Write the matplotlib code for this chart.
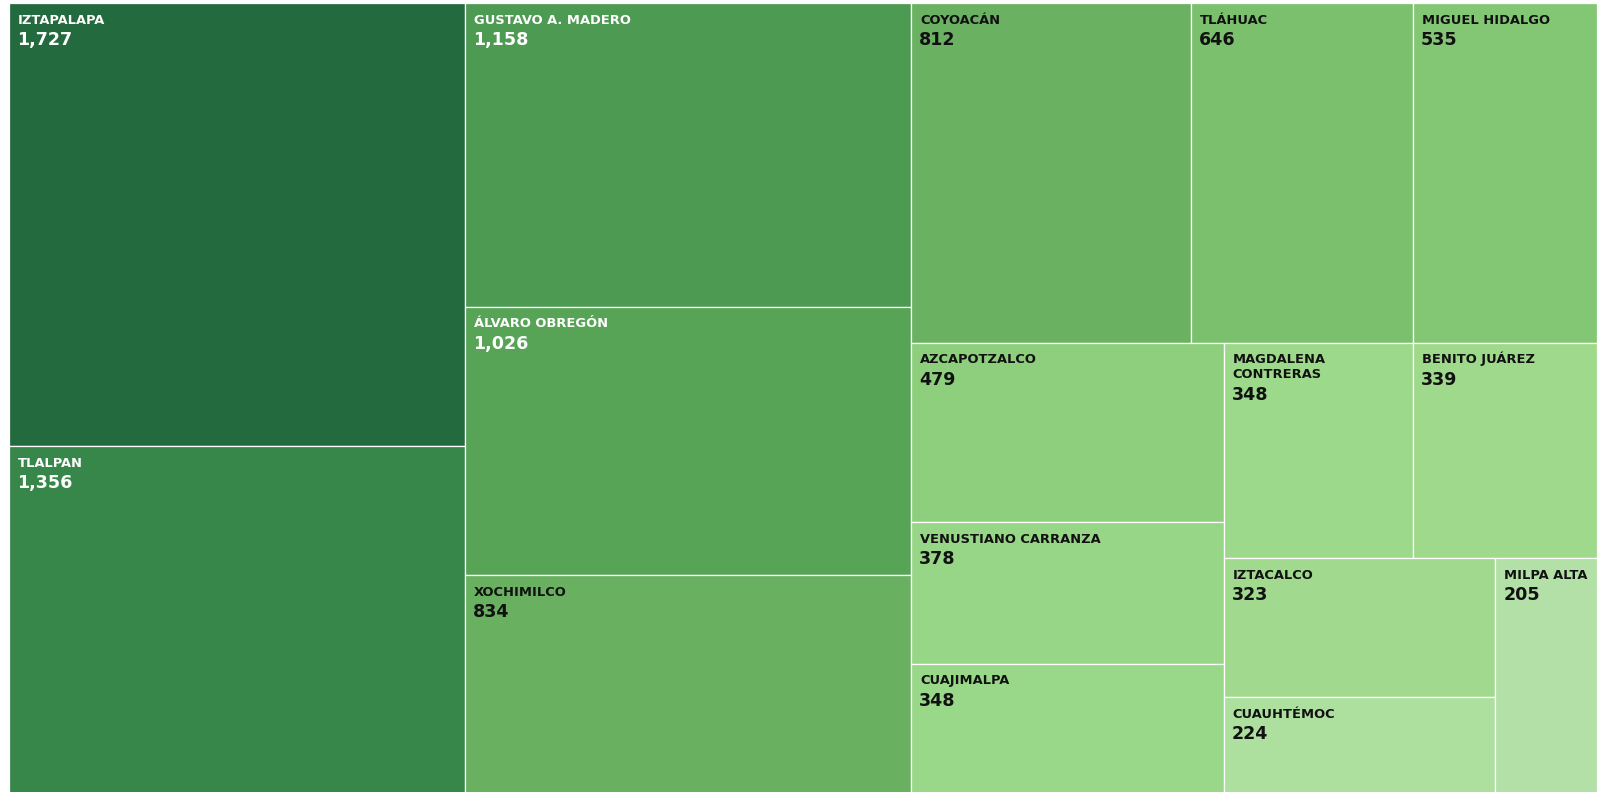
import matplotlib.pyplot as plt
from matplotlib.patches import Rectangle

names = ["IZTAPALAPA", "TLALPAN", "GUSTAVO A. MADERO", "ÁLVARO OBREGÓN", "XOCHIMILCO",
         "COYOACÁN", "TLÁHUAC", "MIGUEL HIDALGO", "AZCAPOTZALCO", "VENUSTIANO CARRANZA",
         "CUAJIMALPA", "MAGDALENA\nCONTRERAS", "BENITO JUÁREZ", "IZTACALCO", "CUAUHTÉMOC",
         "MILPA ALTA"]
values = [1727, 1356, 1158, 1026, 834, 812, 646, 535, 479, 378, 348, 348, 339, 323, 224, 205]
colors = ["#236a3e", "#37874a", "#4d9a52", "#58a457", "#69b161", "#6ab262", "#7ac06d", "#83c775",
          "#8dcf7c", "#97d686", "#9ad889", "#9dd98b", "#9ed98c", "#a1da8e", "#addf9f", "#b2e0a6"]
text_colors = ["white"] * 4 + ["#111111"] * 12

PHI = (1 + 5 ** 0.5) / 2


def squarify(vals, x0, y0, x1, y1, ratio=PHI):
    # same rule as d3.treemapSquarify
    rects = []
    value = sum(vals)
    i0 = i1 = 0
    n = len(vals)
    while i0 < n:
        dx, dy = x1 - x0, y1 - y0
        sum_v = vals[i1]
        i1 += 1
        min_v = max_v = sum_v
        alpha = max(dy / dx, dx / dy) / (value * ratio)
        beta = sum_v * sum_v * alpha
        min_ratio = max(max_v / beta, beta / min_v)
        while i1 < n:
            v = vals[i1]
            s = sum_v + v
            mn, mx = min(min_v, v), max(max_v, v)
            beta = s * s * alpha
            new_ratio = max(mx / beta, beta / mn)
            if new_ratio > min_ratio:
                break
            sum_v, min_v, max_v, min_ratio = s, mn, mx, new_ratio
            i1 += 1
        row = vals[i0:i1]
        if dx < dy:
            h = dy * sum_v / value
            cx = x0
            for v in row:
                w = dx * v / sum_v
                rects.append((cx, y0, w, h))
                cx += w
            y0 += h
        else:
            w = dx * sum_v / value
            cy = y0
            for v in row:
                h = dy * v / sum_v
                rects.append((x0, cy, w, h))
                cy += h
            x0 += w
        value -= sum_v
        i0 = i1
    return rects


fig = plt.figure(figsize=(15.97, 7.92), dpi=100)
ax = fig.add_axes([0, 0, 1, 1])
ax.set_xlim(0, 1597)
ax.set_ylim(792, 0)
ax.axis("off")

rects = squarify(values, 9, 3, 1597, 794)
for (x, y, w, h), name, val, c, tc in zip(rects, names, values, colors, text_colors):
    ax.add_patch(Rectangle((x, y), w, h, facecolor=c, edgecolor="white", linewidth=0.9))
    lines = name.split("\n")
    for k, line in enumerate(lines):
        ax.text(x + 9, y + 20.5 + 15 * k, line, color=tc, fontsize=9.4, fontweight="bold",
                family="DejaVu Sans", va="baseline", ha="left")
    ax.text(x + 8, y + 42 + 15 * (len(lines) - 1), f"{val:,}", color=tc, fontsize=12.6,
            fontweight="bold", family="DejaVu Sans", va="baseline", ha="left")

fig.savefig("out.png", dpi=100)
